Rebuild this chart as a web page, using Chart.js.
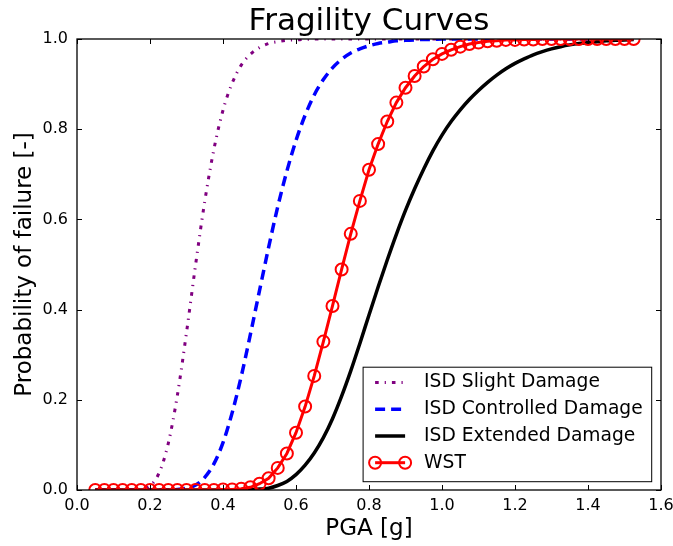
<!DOCTYPE html>
<html>
<head>
<meta charset="utf-8">
<title>Fragility Curves</title>
<script src="https://cdn.jsdelivr.net/npm/chart.js@4.4.0/dist/chart.umd.min.js"></script>
<style>
    html, body { margin: 0; padding: 0; background: #fff; }
    #wrap { width: 673px; height: 546px; }
</style>
</head>
<body>
<div id="wrap"><canvas id="fragility-chart" width="673" height="546"></canvas></div>
<script>
// PGA [g] grid (x values)
const pga = [0.05, 0.075, 0.1, 0.125, 0.15, 0.175, 0.2, 0.225, 0.25,
    0.275, 0.3, 0.325, 0.35, 0.375, 0.4, 0.425, 0.45, 0.475, 0.5,
    0.525, 0.55, 0.575, 0.6, 0.625, 0.65, 0.675, 0.7, 0.725, 0.75,
    0.775, 0.8, 0.825, 0.85, 0.875, 0.9, 0.925, 0.95, 0.975, 1.0,
    1.025, 1.05, 1.075, 1.1, 1.125, 1.15, 1.175, 1.2, 1.225, 1.25,
    1.275, 1.3, 1.325, 1.35, 1.375, 1.4, 1.425, 1.45, 1.475, 1.5, 1.525];

// Probabilidade de falha
const slightDamage = [0, 0, 0, 0, 0, 0.001, 0.009, 0.038, 0.103,
    0.21, 0.349, 0.5, 0.64, 0.755, 0.842, 0.902, 0.942, 0.966, 0.981,
    0.99, 0.994, 0.997, 0.998, 0.999, 1, 1, 1, 1, 1,
    1, 1, 1, 1, 1, 1, 1, 1, 1, 1,
    1, 1, 1, 1, 1, 1, 1, 1, 1, 1,
    1, 1, 1, 1, 1, 1, 1, 1, 1, 1, 1];

const controlledDamage = [0, 0, 0, 0, 0, 0, 0, 0, 0,
    0.001, 0.004, 0.011, 0.028, 0.058, 0.105, 0.171, 0.252, 0.345, 0.442,
    0.538, 0.628, 0.707, 0.775, 0.831, 0.876, 0.91, 0.936, 0.955, 0.969,
    0.978, 0.985, 0.99, 0.993, 0.996, 0.997, 0.998, 0.999, 0.999, 1,
    1, 1, 1, 1, 1, 1, 1, 1, 1, 1,
    1, 1, 1, 1, 1, 1, 1, 1, 1, 1, 1];

const extendedDamage = [0, 0, 0, 0, 0, 0, 0, 0, 0,
    0, 0, 0, 0, 0, 0, 0, 0, 0.001, 0.002,
    0.004, 0.01, 0.019, 0.034, 0.055, 0.082, 0.116, 0.158, 0.208, 0.264,
    0.325, 0.388, 0.45, 0.51, 0.567, 0.62, 0.668, 0.712, 0.752, 0.787,
    0.817, 0.843, 0.866, 0.886, 0.904, 0.92, 0.934, 0.946, 0.956, 0.965,
    0.972, 0.978, 0.983, 0.987, 0.99, 0.992, 0.994, 0.996, 0.997, 0.998, 0.999];

const wst = [0, 0, 0, 0, 0, 0, 0, 0, 0,
    0, 0, 0, 0, 0, 0.001, 0.001, 0.003, 0.006, 0.014,
    0.026, 0.049, 0.081, 0.127, 0.185, 0.253, 0.329, 0.408, 0.489, 0.568,
    0.641, 0.71, 0.767, 0.817, 0.859, 0.892, 0.918, 0.939, 0.955, 0.967,
    0.976, 0.983, 0.989, 0.992, 0.995, 0.996, 0.998, 0.998, 0.999, 0.999,
    1, 1, 1, 1, 1, 1, 1, 1, 1, 1, 1];

const xTicks = [0, 0.2, 0.4, 0.6, 0.8, 1.0, 1.2, 1.4, 1.6];
const yTicks = [0, 0.2, 0.4, 0.6, 0.8, 1.0];

const FONT = "'DejaVu Sans', 'Liberation Sans', sans-serif";
Chart.defaults.font.family = FONT;
Chart.defaults.color = "#000";

function toPoints(values) {
    return pga.map((x, i) => ({ x: x, y: values[i] }));
}

// Moldura e ticks para dentro (estilo matplotlib)
const frameTicks = {
    id: "frameTicks",
    afterDatasetsDraw(chart) {
        const { ctx, chartArea: a, scales } = chart;
        const len = 5;
        ctx.save();
        ctx.strokeStyle = "#000";
        ctx.lineWidth = 1;
        ctx.beginPath();
        xTicks.forEach((v) => {
            const px = Math.round(scales.x.getPixelForValue(v)) + 0.5;
            ctx.moveTo(px, a.bottom);
            ctx.lineTo(px, a.bottom - len);
            ctx.moveTo(px, a.top);
            ctx.lineTo(px, a.top + len);
        });
        yTicks.forEach((v) => {
            const py = Math.round(scales.y.getPixelForValue(v)) + 0.5;
            ctx.moveTo(a.left, py);
            ctx.lineTo(a.left + len, py);
            ctx.moveTo(a.right, py);
            ctx.lineTo(a.right - len, py);
        });
        ctx.stroke();
        ctx.lineWidth = 1.3;
        ctx.strokeRect(a.left, a.top, a.right - a.left, a.bottom - a.top);
        ctx.restore();
    }
};

// Legenda dentro da área do gráfico
const boxLegend = {
    id: "boxLegend",
    afterDraw(chart) {
        const { ctx, chartArea: a } = chart;
        const sets = chart.data.datasets;
        ctx.save();
        ctx.font = "18.7px " + FONT;
        const maxW = Math.max(...sets.map((d) => ctx.measureText(d.label).width));
        const w = 61 + maxW + 9;
        const h = 114.5;
        const x0 = a.right - 9.3 - w;
        const y0 = a.bottom - 8.3 - h;
        ctx.fillStyle = "#fff";
        ctx.fillRect(x0, y0, w, h);
        ctx.lineWidth = 1;
        ctx.strokeStyle = "#000";
        ctx.strokeRect(x0, y0, w, h);

        sets.forEach((d, row) => {
            const y = y0 + 15.4 + row * 26.7;
            ctx.strokeStyle = d.borderColor;
            ctx.lineWidth = d.borderWidth;
            ctx.setLineDash(d.borderDash || []);
            ctx.beginPath();
            ctx.moveTo(x0 + 12, y);
            ctx.lineTo(x0 + 42, y);
            ctx.stroke();
            ctx.setLineDash([]);
            if (d.pointRadius > 0) {
                ctx.lineWidth = d.pointBorderWidth;
                [x0 + 12, x0 + 42].forEach((px) => {
                    ctx.beginPath();
                    ctx.arc(px, y, d.pointRadius, 0, Math.PI * 2);
                    ctx.stroke();
                });
            }
            ctx.fillStyle = "#000";
            ctx.textBaseline = "middle";
            ctx.textAlign = "left";
            ctx.fillText(d.label, x0 + 61, y);
        });
        ctx.restore();
    }
};

const ctx = document.getElementById("fragility-chart").getContext("2d");
new Chart(ctx, {
    type: "line",
    data: {
        datasets: [{
            label: "ISD Slight Damage",
            data: toPoints(slightDamage),
            borderColor: "#800080",
            borderWidth: 3,
            borderDash: [3.6, 6, 1.2, 6],
            pointRadius: 0,
            cubicInterpolationMode: "monotone",
            clip: 0,
            order: 4
        }, {
            label: "ISD Controlled Damage",
            data: toPoints(controlledDamage),
            borderColor: "#0000ff",
            borderWidth: 3.5,
            borderDash: [10, 6],
            pointRadius: 0,
            cubicInterpolationMode: "monotone",
            clip: 0,
            order: 3
        }, {
            label: "ISD Extended Damage",
            data: toPoints(extendedDamage),
            borderColor: "#000000",
            borderWidth: 3.5,
            pointRadius: 0,
            cubicInterpolationMode: "monotone",
            clip: 0,
            order: 2
        }, {
            label: "WST",
            data: toPoints(wst),
            borderColor: "#ff0000",
            borderWidth: 3,
            pointRadius: 6,
            pointBorderWidth: 2,
            pointBorderColor: "#ff0000",
            pointBackgroundColor: "rgba(0,0,0,0)",
            tension: 0,
            clip: 0,
            order: 1
        }]
    },
    options: {
        responsive: false,
        animation: false,
        events: [],
        layout: { padding: { right: 12 } },
        plugins: {
            legend: { display: false },
            tooltip: { enabled: false },
            title: {
                display: true,
                fullSize: false,
                text: "Fragility Curves",
                color: "#000",
                font: { size: 31, weight: "normal", lineHeight: 1 },
                padding: { top: 6.5, bottom: 1.5 }
            }
        },
        scales: {
            x: {
                type: "linear",
                min: 0,
                max: 1.6,
                afterBuildTicks: (s) => { s.ticks = xTicks.map((v) => ({ value: v })); },
                afterFit: (s) => { s.height = 56; s.paddingLeft = 0; s.paddingRight = 0; },
                ticks: {
                    callback: (v) => v.toFixed(1),
                    font: { size: 16 },
                    padding: 6,
                    maxRotation: 0,
                    autoSkip: false
                },
                grid: { display: false, drawTicks: false },
                border: { display: false },
                title: {
                    display: true,
                    text: "PGA [g]",
                    font: { size: 23, lineHeight: 1 },
                    padding: { top: 0, bottom: 5.5 }
                }
            },
            y: {
                type: "linear",
                min: 0,
                max: 1,
                afterBuildTicks: (s) => { s.ticks = yTicks.map((v) => ({ value: v })); },
                afterFit: (s) => { s.width = 77; s.paddingTop = 0; s.paddingBottom = 0; },
                ticks: {
                    callback: (v) => v.toFixed(1),
                    font: { size: 16 },
                    padding: 9,
                    autoSkip: false
                },
                grid: { display: false, drawTicks: false },
                border: { display: false },
                title: {
                    display: true,
                    text: "Probability of failure [-]",
                    font: { size: 23, lineHeight: 1 },
                    padding: { top: 13.5, bottom: 0 }
                }
            }
        }
    },
    plugins: [frameTicks, boxLegend]
});
</script>
</body>
</html>
